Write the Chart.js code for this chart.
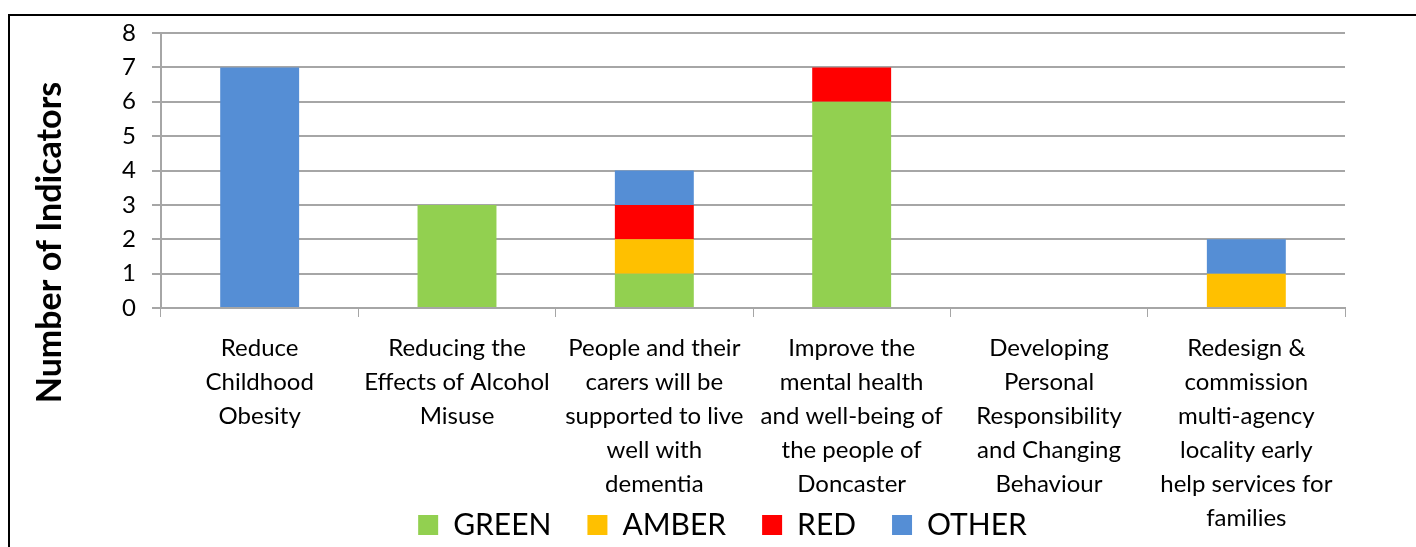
<!DOCTYPE html>
<html>
<head>
<meta charset="utf-8">
<script src="https://cdn.jsdelivr.net/npm/chart.js@4"></script>
<style>
  html, body { margin: 0; padding: 0; background: #fff; }
  #wrap { position: absolute; left: 0; top: 0; width: 1416px; height: 547px; }
  #frame { position: absolute; left: 8px; top: 14px; width: 1420px; height: 545px;
           border-left: 2px solid #000; border-top: 2px solid #000; pointer-events: none; }
</style>
</head>
<body>
<div id="wrap"><canvas id="c" width="1416" height="547"></canvas></div>
<div id="frame"></div>
<script>
/* Indicators per priority, stacked by RAG status */
const categories = [
    ['Reduce', 'Childhood', 'Obesity'],
    ['Reducing the', 'Effects of Alcohol', 'Misuse'],
    ['People and their', 'carers will be', 'supported to live', 'well with', 'dementia'],
    ['Improve the', 'mental health', 'and well-being of', 'the people of', 'Doncaster'],
    ['Developing', 'Personal', 'Responsibility', 'and Changing', 'Behaviour'],
    ['Redesign &', 'commission', 'multi-agency', 'locality early', 'help services for', 'families']
];
const greenVals = [0, 3, 1, 6, 0, 0];
const amberVals = [0, 0, 1, 0, 0, 1];
const redVals   = [0, 0, 1, 1, 0, 0];
const otherVals = [7, 0, 1, 0, 0, 1];
const yTicks = [0, 1, 2, 3, 4, 5, 6, 7, 8];

const FONT = "Lato, 'Open Sans', sans-serif";
const GRID = '#a6a6a6';
const PLOT_BOTTOM = 308;   // y pixel of the value axis zero line

Chart.defaults.font.family = FONT;
Chart.defaults.color = '#000';

const mk = (label, data, color) => ({
    label, data, backgroundColor: color, borderWidth: 0,
    barPercentage: 0.4, categoryPercentage: 1.0
});

// legend sits a little right of the canvas centre in the original
const legendShift = {
    id: 'legendShift',
    afterLayout(chart) {
        const l = chart.legend;
        l.left += 35; l.right += 35;
        l.top += 3; l.bottom += 3;
    }
};

new Chart(document.getElementById('c').getContext('2d'), {
    type: 'bar',
    data: {
        labels: categories,
        datasets: [
            mk('GREEN', greenVals, '#92d050'),
            mk('AMBER', amberVals, '#ffc000'),
            mk('RED', redVals, '#ff0000'),
            mk('OTHER', otherVals, '#558ed5')
        ]
    },
    plugins: [legendShift],
    options: {
        responsive: false, animation: false,
        layout: { padding: { left: 30, right: 71, top: 33, bottom: 0 } },
        scales: {
            x: {
                stacked: true,
                afterFit: (s) => {
                    const lg = s.chart.legend ? s.chart.legend.height : 0;
                    s.height = s.chart.height - PLOT_BOTTOM - lg;
                    s._computeLabelArea = () => undefined;   // long labels run down past the legend top
                },
                grid: { display: true, drawOnChartArea: false, drawTicks: true, tickLength: 9, color: GRID, offset: true },
                border: { display: true, color: GRID, width: 2 },
                ticks: { font: { size: 24, lineHeight: 1.417 }, padding: 14, maxRotation: 0, autoSkip: false }
            },
            y: {
                stacked: true, min: 0, max: 8,
                afterFit: (s) => {
                    s.width = 131;
                    const base = Object.getPrototypeOf(s).drawTitle;
                    s.drawTitle = function () {
                        // axis title is centred lower than the plot area in the original
                        this.top += 72; this.bottom += 72;
                        base.call(this);
                        this.top -= 72; this.bottom -= 72;
                    };
                },
                afterBuildTicks: (s) => { s.ticks = yTicks.map(v => ({ value: v })); },
                grid: { color: GRID, lineWidth: 2, tickLength: 9 },
                border: { display: true, color: GRID, width: 2 },
                ticks: { font: { size: 24 }, padding: 16 },
                title: { display: true, text: 'Number of Indicators', font: { size: 34, weight: 'bold' }, padding: 0 }
            }
        },
        plugins: {
            tooltip: { enabled: false },
            legend: {
                position: 'bottom',
                labels: { boxWidth: 20, boxHeight: 20, font: { size: 30 }, padding: 36 }
            }
        }
    }
});
</script>
</body>
</html>
